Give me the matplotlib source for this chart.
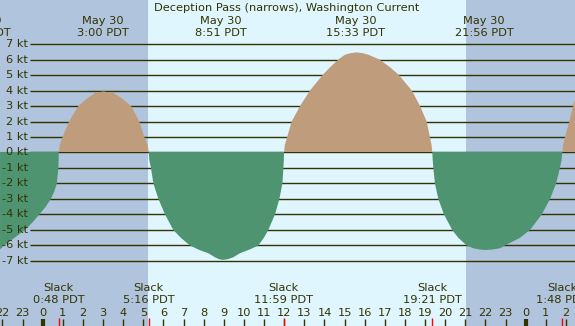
import numpy as np
import matplotlib.pyplot as plt

# current speed (kt), time in hours from midnight May 30
hours = [-2.12, -1.96, -1.5, -0.88, -0.5, -0.17, 0.15, 0.40, 0.58, 0.70, 0.78, 0.80,
         0.85, 0.99, 1.31, 1.77, 2.22, 2.6, 3.0, 3.51, 3.93, 4.39, 4.80, 5.05, 5.21, 5.27,
         5.30, 5.38, 5.50, 5.75, 6.08, 6.49, 6.86, 7.32, 7.8, 8.23, 8.56, 8.75, 8.95, 9.2,
         9.47, 9.80, 10.3, 10.71, 10.99, 11.21, 11.54, 11.76, 11.91, 11.96, 11.98, 11.99,
         12.03, 12.15, 12.37, 12.79, 13.28, 13.91, 14.28, 14.69, 15.02, 15.27, 15.6,
         15.93, 16.18, 16.73, 17.26, 17.70, 18.34, 18.75, 19.08, 19.24, 19.32, 19.36,
         19.38, 19.41, 19.49, 19.66, 19.94, 20.35, 20.65, 21.07, 21.4, 21.7, 22.0, 22.35,
         22.72, 22.97, 23.72, 24.21, 24.80, 25.21, 25.51, 25.70, 25.78, 25.82,
         25.86, 25.95, 26.17, 26.35, 26.45]
speed = [-6.25, -6.05, -5.6, -5.0, -4.5, -4.0, -3.5, -3.0, -2.5, -2.0, -1.0, 0.0,
         0.5, 1.0, 2.0, 3.0, 3.5, 3.84, 3.94, 3.84, 3.5, 3.0, 2.0, 1.0, 0.5, 0.0,
         -0.5, -1.0, -2.0, -3.0, -4.0, -5.0, -5.5, -6.0, -6.3, -6.5, -6.76, -6.88, -6.93, -6.88,
         -6.76, -6.5, -6.25, -6.0, -5.5, -5.0, -4.0, -3.0, -2.0, -1.0, -0.5, 0.0,
         0.5, 1.0, 2.0, 3.0, 4.0, 5.0, 5.5, 6.0, 6.31, 6.4, 6.46,
         6.4, 6.31, 6.0, 5.5, 5.0, 4.0, 3.0, 2.0, 1.0, 0.5, 0.0,
         -0.5, -1.0, -2.0, -3.0, -4.0, -5.0, -5.5, -6.0, -6.18, -6.26, -6.29, -6.26,
         -6.18, -6.0, -5.5, -5.0, -4.0, -3.0, -2.0, -1.0, -0.5, 0.0,
         0.5, 1.0, 2.0, 3.0, 3.4]

title = "Deception Pass (narrows), Washington Current"
max_times = [-3.06, 3.0, 8.85, 15.55, 21.93]
max_dates = ["May 29", "May 30", "May 30", "May 30", "May 30"]
max_labels = ["20:56 PDT", "3:00 PDT", "8:51 PDT", "15:33 PDT", "21:56 PDT"]
slack_times = [0.8, 5.267, 11.983, 19.35, 25.8]
slack_labels = ["0:48 PDT", "5:16 PDT", "11:59 PDT", "19:21 PDT", "1:48 PDT"]
sunrise = 5.23
sunset = 21.02
kt_levels = list(range(-7, 8))
hour_ticks = list(range(-2, 27))

night = '#b0c4de'
day = '#dff6ff'
flood = '#bf9c7c'
ebb = '#4f9471'
ink = '#333300'

fig = plt.figure(figsize=(5.75, 3.26), dpi=100)
ax = fig.add_axes([0, 0, 1, 1])
x0, x1 = -2.122, 26.45
ax.set_xlim(x0, x1)
ax.set_ylim(-11.194, 9.839)
ax.axis('off')

ax.axvspan(x0, sunrise, color=night, lw=0, zorder=0)
ax.axvspan(sunrise, sunset, color=day, lw=0, zorder=0)
ax.axvspan(sunset, x1, color=night, lw=0, zorder=0)

ax.hlines(kt_levels, -0.63, x1, color=ink, lw=1.0, zorder=2)

t = np.array(hours)
v = np.array(speed)
# green covers the zero line, brown sits on top of it
ax.fill_between(t, 0.035, np.maximum(v, 0), where=v >= 0, color=flood, lw=0, zorder=3)
ax.fill_between(t, 0.035, np.minimum(v, 0), where=v <= 0, color=ebb, lw=0, zorder=3)

fs = 8.2
for k in kt_levels:
    ax.text(-0.72, k, f"{k} kt", ha='right', va='center', fontsize=fs, color=ink)

tr = ax.get_xaxis_transform()
H = 326.0
ax.text(0.499, 1 - 11.0 / H, title, transform=ax.transAxes, ha='center',
        va='baseline', fontsize=fs, color=ink)
for tm, d, lab in zip(max_times, max_dates, max_labels):
    ax.text(tm, 1 - 24.3 / H, d, transform=tr, ha='center', va='baseline', fontsize=fs, color=ink)
    ax.text(tm, 1 - 35.7 / H, lab, transform=tr, ha='center', va='baseline', fontsize=fs, color=ink)
for tm, lab in zip(slack_times, slack_labels):
    ax.text(tm, 1 - 291.3 / H, "Slack", transform=tr, ha='center', va='baseline', fontsize=fs, color=ink)
    ax.text(tm, 1 - 303.3 / H, lab, transform=tr, ha='center', va='baseline', fontsize=fs, color=ink)

for h in hour_ticks:
    ax.text(h, 1 - 315.7 / H, str(h % 24), transform=tr, ha='center', va='baseline',
            fontsize=fs, color=ink)
    lw = 3 if h % 24 == 0 else 1.0
    ax.vlines(h, 0, 6.7 / H, transform=tr, color=ink, lw=lw, zorder=4)
ax.vlines(slack_times, 0, 8 / H, transform=tr, color='red', lw=1.0, zorder=5)

fig.savefig('out.png', dpi=100)
